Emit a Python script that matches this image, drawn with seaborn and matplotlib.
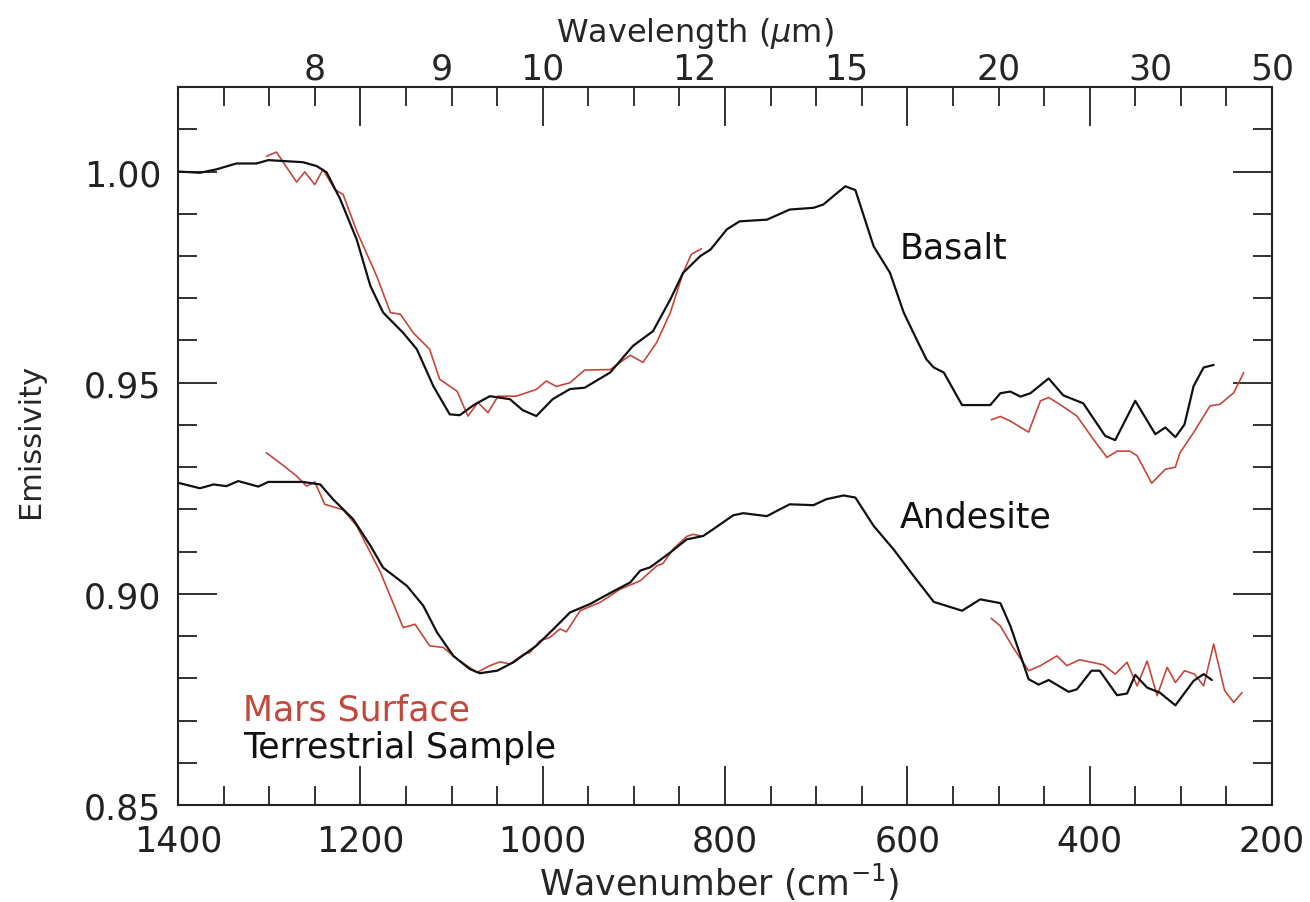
import numpy as np
import matplotlib
matplotlib.use("Agg")
import matplotlib.pyplot as plt
from matplotlib.ticker import MultipleLocator, FixedLocator, NullLocator
import seaborn as sns

# ---- data (wavenumber cm-1, emissivity) ----
basalt_wn = [1400, 1376, 1358, 1336, 1314, 1301, 1263, 1248, 1237, 1222, 1204, 1189, 1175, 1153,
             1138, 1120, 1102, 1091, 1075, 1058, 1036, 1022, 1007, 989, 970, 954, 926, 901, 879,
             860, 846, 827, 816, 798, 784, 754, 729, 703, 692, 681, 668, 657, 637, 619, 604, 590,
             579, 571, 560, 540, 509, 498, 487, 476, 465, 445, 429, 407, 383, 372, 350, 328, 317,
             306, 296, 286, 275, 264]
basalt_em = [1.0000, 0.9997, 1.0005, 1.0019, 1.0019, 1.0027, 1.0022, 1.0013, 0.9998, 0.9934,
             0.9839, 0.9729, 0.9666, 0.9618, 0.9579, 0.9492, 0.9425, 0.9423, 0.9448, 0.9468,
             0.9461, 0.9435, 0.9421, 0.9461, 0.9485, 0.9488, 0.9524, 0.9587, 0.9622, 0.9697,
             0.9760, 0.9800, 0.9815, 0.9863, 0.9882, 0.9886, 0.9910, 0.9914, 0.9922, 0.9942,
             0.9965, 0.9956, 0.9823, 0.9760, 0.9666, 0.9603, 0.9555, 0.9536, 0.9524, 0.9447,
             0.9447, 0.9475, 0.9479, 0.9467, 0.9475, 0.9510, 0.9470, 0.9451, 0.9374, 0.9364,
             0.9457, 0.9378, 0.9394, 0.9371, 0.9401, 0.9492, 0.9536, 0.9542]

mars_b1_wn = [1303, 1292, 1270, 1261, 1250, 1241, 1228, 1219, 1204, 1182, 1167, 1156, 1142, 1124,
              1113, 1094, 1082, 1071, 1060, 1049, 1029, 1007, 996, 985, 970, 954, 926, 904, 890,
              875, 860, 846, 837, 826]
mars_b1_em = [1.0036, 1.0046, 0.9975, 0.9999, 0.9969, 1.0005, 0.9957, 0.9946, 0.9859, 0.9752,
              0.9666, 0.9662, 0.9618, 0.9579, 0.9508, 0.9480, 0.9421, 0.9453, 0.9429, 0.9468,
              0.9468, 0.9484, 0.9504, 0.9491, 0.9500, 0.9530, 0.9531, 0.9565, 0.9548, 0.9595,
              0.9666, 0.9760, 0.9804, 0.9817]
mars_b2_wn = [508, 498, 487, 467, 454, 445, 433, 414, 396, 381, 370, 356, 348, 332, 317, 306, 301,
              286, 268, 257, 242, 231]
mars_b2_em = [0.9412, 0.9420, 0.9409, 0.9383, 0.9457, 0.9465, 0.9449, 0.9421, 0.9366, 0.9323,
              0.9338, 0.9338, 0.9327, 0.9262, 0.9295, 0.9300, 0.9334, 0.9382, 0.9445, 0.9449,
              0.9476, 0.9524]

andes_wn = [1400, 1376, 1361, 1347, 1334, 1312, 1301, 1263, 1244, 1230, 1208, 1189, 1175, 1149,
            1131, 1116, 1098, 1080, 1069, 1050, 1032, 1007, 988, 970, 948, 926, 904, 893, 882,
            860, 842, 824, 813, 791, 780, 754, 740, 729, 703, 689, 670, 657, 637, 615, 593, 571,
            540, 520, 498, 487, 467, 456, 445, 423, 414, 398, 389, 370, 359, 350, 337, 323, 306,
            286, 275, 266]
andes_em = [0.9263, 0.9250, 0.9259, 0.9255, 0.9267, 0.9254, 0.9265, 0.9265, 0.9259, 0.9224,
            0.9177, 0.9114, 0.9062, 0.9019, 0.8972, 0.8909, 0.8853, 0.8822, 0.8812, 0.8818,
            0.8838, 0.8877, 0.8917, 0.8956, 0.8976, 0.9002, 0.9027, 0.9055, 0.9063, 0.9098,
            0.9129, 0.9137, 0.9153, 0.9186, 0.9191, 0.9184, 0.9200, 0.9212, 0.9210, 0.9224,
            0.9233, 0.9228, 0.9161, 0.9105, 0.9042, 0.8981, 0.8960, 0.8987, 0.8978, 0.8924,
            0.8798, 0.8785, 0.8796, 0.8768, 0.8774, 0.8818, 0.8818, 0.8760, 0.8764, 0.8808,
            0.8778, 0.8766, 0.8736, 0.8794, 0.8810, 0.8796]

mars_a1_wn = [1303, 1284, 1270, 1259, 1250, 1239, 1219, 1204, 1178, 1153, 1140, 1124, 1109, 1091,
              1072, 1058, 1047, 1036, 1021, 1014, 1003, 992, 981, 974, 959, 937, 915, 893, 875,
              868, 857, 842, 835, 826]
mars_a1_em = [0.9334, 0.9303, 0.9279, 0.9255, 0.9265, 0.9212, 0.9199, 0.9161, 0.9051, 0.8920,
              0.8928, 0.8877, 0.8873, 0.8841, 0.8814, 0.8830, 0.8839, 0.8834, 0.8857, 0.8861,
              0.8889, 0.8897, 0.8917, 0.8910, 0.8960, 0.8980, 0.9011, 0.9031, 0.9066, 0.9072,
              0.9106, 0.9136, 0.9141, 0.9137]
mars_a2_wn = [508, 498, 484, 467, 454, 436, 425, 411, 398, 385, 372, 359, 348, 337, 326, 315, 306,
              296, 285, 275, 264, 252, 242, 233]
mars_a2_em = [0.8942, 0.8924, 0.8873, 0.8818, 0.8830, 0.8853, 0.8830, 0.8844, 0.8838, 0.8832,
              0.8810, 0.8838, 0.8782, 0.8841, 0.8759, 0.8826, 0.8790, 0.8818, 0.8810, 0.8782,
              0.8881, 0.8771, 0.8743, 0.8766]

wavelength_ticks = [8, 9, 10, 12, 15, 20, 30, 50]

RED = "#c4473c"
BLACK = "#111111"

sns.set_theme(style="ticks")
plt.rcParams["font.family"] = ["DejaVu Sans"]

fig = plt.figure(figsize=(13.1, 9.03), dpi=100)
ax = fig.add_axes([0.1359, 0.1074, 0.8351, 0.7951])

def draw(x, y, c, lw):
    sns.lineplot(x=x, y=y, ax=ax, color=c, lw=lw, estimator=None, sort=False)

draw(mars_b1_wn, mars_b1_em, RED, 1.2)
draw(mars_b2_wn, mars_b2_em, RED, 1.2)
draw(mars_a1_wn, mars_a1_em, RED, 1.2)
draw(mars_a2_wn, mars_a2_em, RED, 1.2)
draw(basalt_wn, basalt_em, BLACK, 1.6)
draw(andes_wn, andes_em, BLACK, 1.6)

ax.set_xlim(1400, 200)
ax.set_ylim(0.85, 1.02)
ax.xaxis.set_major_locator(MultipleLocator(200))
ax.xaxis.set_minor_locator(MultipleLocator(50))
ax.yaxis.set_major_locator(FixedLocator([0.85, 0.90, 0.95, 1.00]))
ax.yaxis.set_minor_locator(MultipleLocator(0.01))
ax.yaxis.set_major_formatter(matplotlib.ticker.FormatStrFormatter("%.2f"))
ax.tick_params(which="both", direction="in", top=True, right=True, width=1.3,
               colors="#222222", labelsize=25)
ax.tick_params(which="major", length=28)
ax.tick_params(which="minor", length=14)
ax.tick_params(axis="x", pad=13)
ax.tick_params(axis="y", pad=12)
for s in ax.spines.values():
    s.set_linewidth(1.5)
    s.set_color("#222222")

ax.set_xlabel("Wavenumber (cm$^{-1}$)", fontsize=25, va="center")
ax.xaxis.set_label_coords(0.495, -0.106)
ax.set_ylabel("Emissivity", fontsize=22, va="center")
ax.yaxis.set_label_coords(-0.135, 0.508)

def wn2wl(w):
    w = np.asarray(w, dtype=float)
    return 1e4 / np.where(w == 0, 1e-9, w)

# top axis: wavelength labels at 1e4/lambda, no ticks of its own
sec = ax.secondary_xaxis("top", functions=(wn2wl, wn2wl))
sec.set_xticks(wavelength_ticks)
sec.set_xticklabels([str(v) for v in wavelength_ticks])
sec.xaxis.set_minor_locator(NullLocator())
sec.tick_params(length=0, labelsize=25, pad=1)
sec.set_xlabel(r"Wavelength ($\mu$m)", fontsize=23, va="center")
sec.xaxis.set_label_coords(0.4726, 1.0766, transform=ax.transAxes)
sec.spines["top"].set_visible(False)

ax.text(608, 0.982, "Basalt", fontsize=25, va="center", ha="left", color=BLACK)
ax.text(608, 0.9184, "Andesite", fontsize=25, va="center", ha="left", color=BLACK)
ax.text(1329, 0.8727, "Mars Surface", fontsize=25, va="center", ha="left", color=RED)
ax.text(1329, 0.8637, "Terrestrial Sample", fontsize=25, va="center", ha="left", color=BLACK)

fig.savefig("out.png", dpi=100, facecolor="white")
